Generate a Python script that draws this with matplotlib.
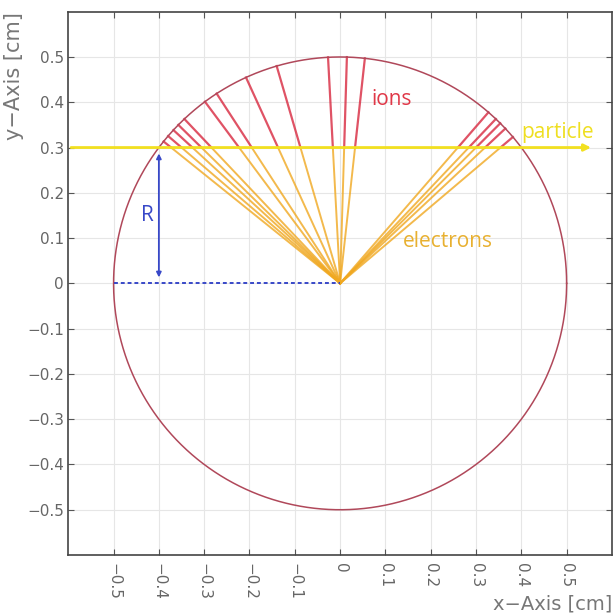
import numpy as np
import matplotlib
matplotlib.use("Agg")
import matplotlib.pyplot as plt

# chamber / track geometry (cm)
R_TUBE = 0.5
TRACK_Y = 0.3
# ionisation points along the particle track (x, cm)
clusters_x = [-0.373, -0.35, -0.326, -0.306, -0.284, -0.223, -0.195, -0.137,
              -0.0875, -0.016, 0.009, 0.033, 0.26, 0.284, 0.30, 0.32, 0.354]
ticks = [-0.5, -0.4, -0.3, -0.2, -0.1, 0, 0.1, 0.2, 0.3, 0.4, 0.5]
tick_labels = ["\u22120.5", "\u22120.4", "\u22120.3", "\u22120.2", "\u22120.1",
               "0", "0.1", "0.2", "0.3", "0.4", "0.5"]

plt.rcParams["font.family"] = ["DejaVu Sans"]

fig = plt.figure(figsize=(6.15, 6.16), dpi=100)
ax = fig.add_axes([0.111, 0.099, 0.884, 0.882])

# tube wall
t = np.linspace(0, 2 * np.pi, 400)
ax.plot(R_TUBE * np.cos(t), R_TUBE * np.sin(t), color="#b0485a", lw=1.1, zorder=3)

# electrons (to wire) and ions (to wall)
for cx in clusters_x:
    r_track = np.hypot(cx, TRACK_Y)
    ex, ey = cx / r_track * R_TUBE, TRACK_Y / r_track * R_TUBE
    ax.plot([0, cx], [0, TRACK_Y], color="#f0a820", lw=1.4, alpha=0.8, zorder=2)
    ax.plot([cx, ex], [TRACK_Y, ey], color="#d8283f", lw=1.6, alpha=0.8, zorder=2)

# particle track
ax.annotate("", xy=(0.56, TRACK_Y), xytext=(-0.6, TRACK_Y),
            arrowprops=dict(arrowstyle="-|>", color="#f2e020", lw=2,
                            mutation_scale=10), zorder=4)

# radius marker
ax.plot([-0.5, 0], [0, 0], color="#3848c8", lw=1.4, ls=(0, (2, 1.5)), zorder=4)
ax.annotate("", xy=(-0.4, 0.293), xytext=(-0.4, 0.007),
            arrowprops=dict(arrowstyle="<|-|>", color="#3848c8", lw=1.3,
                            mutation_scale=7), zorder=5)

lbl = dict(fontsize=15, family=["Open Sans", "DejaVu Sans"], va="center")
ax.text(-0.425, 0.15, "R", color="#3848c8", ha="center", **lbl)
ax.text(0.07, 0.405, "ions", color="#e03848", ha="left", **lbl)
ax.text(0.139, 0.093, "electrons", color="#e8b030", ha="left", **lbl)
ax.text(0.40, 0.334, "particle", color="#efdf20", ha="left", **lbl)

ax.set_xlim(-0.6, 0.6)
ax.set_ylim(-0.6, 0.6)
ax.set_xticks(ticks)
ax.set_xticklabels(tick_labels, rotation=-90, va="top", ha="center")
ax.set_yticks(ticks)
ax.set_yticklabels(tick_labels)
ax.tick_params(direction="in", top=True, right=True, labelsize=11,
               colors="#555555", labelcolor="#666666", length=4, pad=3)
ax.tick_params(axis="x", pad=6)
ax.grid(True, color="#e6e6e6", lw=0.8)
ax.set_axisbelow(True)
for s in ax.spines.values():
    s.set_color("#444444")
    s.set_linewidth(1.2)

ax.set_xlabel("x\u2212Axis [cm]", fontsize=14, color="#777777", ha="right", va="center")
ax.xaxis.set_label_coords(1.0, -0.09)
ax.set_ylabel("y\u2212Axis [cm]", fontsize=15, color="#777777", loc="top", labelpad=2)

fig.savefig("out.png", dpi=100)
